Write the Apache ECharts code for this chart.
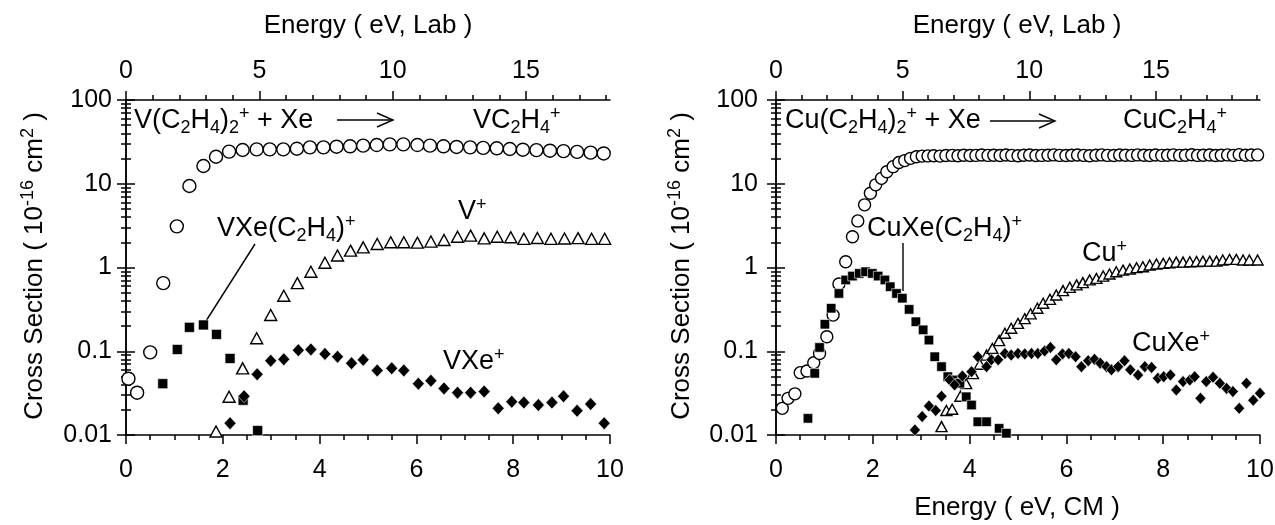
<!DOCTYPE html>
<html><head><meta charset="utf-8">
<script src="https://cdn.jsdelivr.net/npm/echarts@6/dist/echarts.min.js"></script>
<style>html,body{margin:0;padding:0;background:#fff}#c{width:1275px;height:525px}</style>
</head><body><div id="c"></div>
<script>
// ---------- DATA: V(C2H4)2+ + Xe ----------
const vcX = [0.05,0.23,0.50,0.77,1.05,1.31,1.60,1.86,2.13,2.41,2.70,2.97,3.25,3.53,3.80,4.08,4.35,4.63,4.90,5.18,5.45,5.73,6.02,6.28,6.56,6.83,7.11,7.38,7.66,7.93,8.20,8.48,8.76,9.04,9.32,9.60,9.87];
const vcY = [0.047,0.032,0.097,0.65,3.1,9.4,16.3,21,24.2,25.3,25.7,25.7,25.7,26.2,27.2,27.2,27.7,28,28.5,29,29.5,29.5,29,28.5,28,27.5,27.2,26.8,26.5,26,25.5,25.2,24.8,24.5,24,23.5,23];
const vX = [1.86,2.13,2.41,2.70,2.99,3.26,3.54,3.82,4.11,4.37,4.64,4.90,5.19,5.47,5.74,6.02,6.30,6.57,6.85,7.12,7.40,7.67,7.95,8.22,8.50,8.78,9.06,9.34,9.62,9.89];
const vY = [0.011,0.0286,0.0625,0.143,0.271,0.46,0.65,0.89,1.14,1.39,1.59,1.74,1.91,2.0,2.0,1.98,2.04,2.13,2.33,2.40,2.23,2.33,2.30,2.2,2.25,2.2,2.22,2.24,2.2,2.2];
const vxecX = [0.76,1.06,1.31,1.60,1.87,2.15,2.42,2.72];
const vxecY = [0.041,0.105,0.193,0.206,0.159,0.082,0.026,0.0113];
const vxeX = [2.15,2.44,2.71,2.99,3.26,3.56,3.82,4.11,4.37,4.66,4.90,5.19,5.49,5.74,6.04,6.30,6.57,6.85,7.12,7.40,7.69,7.97,8.22,8.52,8.80,9.04,9.32,9.60,9.88];
const vxeY = [0.0138,0.029,0.053,0.077,0.080,0.103,0.105,0.093,0.086,0.072,0.079,0.059,0.0625,0.059,0.041,0.0445,0.036,0.032,0.032,0.033,0.0208,0.025,0.0244,0.0228,0.0244,0.029,0.0195,0.0234,0.0138];

// ---------- DATA: Cu(C2H4)2+ + Xe ----------
const cucX = [0.13,0.25,0.39,0.50,0.64,0.78,0.90,1.05,1.18,1.30,1.44,1.58,1.69,1.83,1.95,2.06,2.18,2.29,2.42,2.54,2.66,2.78,2.90,3.02,
  3.14,3.26,3.39,3.51,3.64,3.76,3.88,4.01,4.13,4.25,4.38,4.50,4.63,4.75,4.87,5.00,5.12,5.24,5.37,5.49,5.62,5.74,5.86,5.99,6.11,6.23,6.36,6.48,6.61,6.73,
  6.85,6.98,7.10,7.22,7.35,7.47,7.60,7.72,7.84,7.97,8.09,8.21,8.34,8.46,8.59,8.71,8.83,8.96,9.08,9.20,9.33,9.45,9.57,9.70,9.82,9.95];
const cucY = [0.0208,0.0274,0.031,0.0555,0.058,0.073,0.094,0.149,0.27,0.635,1.17,2.33,3.6,5.6,7.7,9.7,11.6,13.9,16,17.9,18.9,20.1,21,21.4,
  21.5,21.6,21.4,21.7,21.8,21.6,21.9,21.7,21.8,22.0,21.8,21.9,21.7,22.0,21.8,21.6,21.9,22.0,21.7,21.8,21.9,22.1,21.8,21.7,21.9,22.0,21.8,21.6,21.9,22.1,
  21.8,21.7,22.0,21.9,21.8,22.1,21.9,21.7,22.0,21.8,21.9,22.1,21.8,21.9,22.2,21.8,21.9,22.0,21.7,21.9,22.1,21.8,22.3,21.9,22.0,22.1];
const cuX = [3.42,3.52,3.64,3.81,3.93,4.07,4.21,4.35,4.47,4.61,4.73,4.86,5.00,5.14,5.26,5.40,5.52,5.66,5.79,5.93,6.07,6.21,6.34,6.48,6.62,6.76,6.89,7.03,7.17,7.31,7.45,7.58,7.72,7.86,8.00,8.13,8.27,8.41,8.55,8.69,8.82,8.96,9.10,9.23,9.37,9.51,9.65,9.78,9.95];
const cuY = [0.0126,0.0196,0.0203,0.029,0.041,0.054,0.070,0.090,0.108,0.134,0.164,0.188,0.215,0.245,0.28,0.326,0.374,0.417,0.47,0.53,0.58,0.62,0.66,0.71,0.74,0.79,0.836,0.89,0.93,0.96,0.995,1.02,1.07,1.10,1.12,1.14,1.16,1.16,1.17,1.18,1.19,1.19,1.19,1.23,1.25,1.25,1.23,1.23,1.23];
const cuxecX = [0.66,0.80,0.90,1.01,1.14,1.30,1.44,1.58,1.72,1.85,1.99,2.11,2.25,2.36,2.49,2.61,2.75,2.89,3.04,3.16,3.28,3.42,3.55,3.66,3.80,3.93,4.04,4.17,4.35,4.61,4.76];
const cuxecY = [0.0158,0.0545,0.111,0.21,0.326,0.49,0.71,0.79,0.85,0.89,0.85,0.79,0.71,0.59,0.49,0.43,0.316,0.225,0.18,0.136,0.086,0.0655,0.0497,0.0454,0.0414,0.0286,0.0228,0.0144,0.0144,0.012,0.0105];
const cuxeX = [2.87,3.02,3.16,3.30,3.42,3.59,3.69,3.85,4.04,4.17,4.35,4.45,4.59,4.73,4.86,5.00,5.14,5.28,5.41,5.55,5.67,5.79,5.92,6.05,6.19,6.31,6.45,6.58,6.70,6.83,6.93,7.07,7.20,7.32,7.48,7.62,7.76,7.89,8.01,8.15,8.27,8.41,8.55,8.65,8.77,8.89,9.03,9.17,9.31,9.44,9.57,9.72,9.86,10.0];
const cuxeY = [0.0115,0.0166,0.0222,0.0196,0.029,0.0454,0.0396,0.0506,0.057,0.086,0.0655,0.079,0.079,0.094,0.090,0.094,0.093,0.094,0.094,0.101,0.111,0.079,0.093,0.094,0.086,0.0655,0.077,0.080,0.072,0.0655,0.060,0.0655,0.077,0.060,0.052,0.0655,0.064,0.0475,0.0497,0.052,0.0345,0.0434,0.0454,0.0497,0.0274,0.0434,0.049,0.0414,0.036,0.033,0.0208,0.0414,0.026,0.0315];

// ---------- AXES / TICKS ----------
const cmMajorTicks = [0,2,4,6,8,10];
const cmMinorTicks = [0.5,1,1.5,2.5,3,3.5,4.5,5,5.5,6.5,7,7.5,8.5,9,9.5];
const labMajorTicks = [0,5,10,15];
const labMinorTicks = [1,2,3,4,6,7,8,9,11,12,13,14,16,17,18,19];
const yMajorTicks = [0.01,0.1,1,10,100];
const yTickLabels = ['0.01','0.1','1','10','100'];
const yMinorTicks = [0.02,0.03,0.04,0.05,0.06,0.07,0.08,0.09,0.2,0.3,0.4,0.5,0.6,0.7,0.8,0.9,2,3,4,5,6,7,8,9,20,30,40,50,60,70,80,90];
const labMaxV = 18.15;   // Lab energy at 10 eV CM, V(C2H4)2+ + Xe
const labMaxCu = 19.11;  // Lab energy at 10 eV CM, Cu(C2H4)2+ + Xe

const FF = '"Liberation Sans", Arial, Helvetica, sans-serif';
const FS = 25;      // tick labels
const FT = 26;      // axis titles
const FA = 27;      // annotations
const LW = 1.5;
const black = '#000';

function xAx(grid, pos, max, ticks, len, labelVals) {
  return {
    type: 'value', gridIndex: grid, position: pos, min: 0, max: max,
    axisLine: {show: !!labelVals, lineStyle: {color: black, width: LW}},
    axisTick: {show: true, inside: false, length: len, customValues: ticks, lineStyle: {color: black, width: LW}},
    axisLabel: labelVals ? {show: true, customValues: labelVals, color: black, fontSize: FS, fontFamily: FF, margin: pos === 'bottom' ? 23 : 16} : {show: false},
    splitLine: {show: false}, minorTick: {show: false}
  };
}
function yAx(grid, pos, ticks, len, labelVals, showLine, margin) {
  return {
    type: 'log', logBase: 10, gridIndex: grid, position: pos, min: 0.01, max: 100,
    axisLine: {show: showLine, lineStyle: {color: black, width: LW}},
    axisTick: {show: true, inside: false, length: len, customValues: ticks, lineStyle: {color: black, width: LW}},
    axisLabel: labelVals ? {show: true, customValues: labelVals, color: black, fontSize: FS, fontFamily: FF, margin: margin,
      formatter: function (v) {
        for (let i = 0; i < yMajorTicks.length; i++) {
          if (Math.abs(Math.log10(yMajorTicks[i]) - Math.log10(v)) < 1e-6) return yTickLabels[i];
        }
        return '';
      }} : {show: false},
    splitLine: {show: false}, minorTick: {show: false}
  };
}

const xAxes = [], yAxes = [];
[[0, labMaxV], [1, labMaxCu]].forEach(function (g) {
  const gi = g[0];
  xAxes.push(xAx(gi, 'bottom', 10, cmMajorTicks, 9, cmMajorTicks));
  xAxes.push(xAx(gi, 'bottom', 10, cmMinorTicks, 5, null));
  xAxes.push(xAx(gi, 'top', g[1], labMajorTicks, 9, labMajorTicks));
  xAxes.push(xAx(gi, 'top', g[1], labMinorTicks, 5, null));
  yAxes.push(yAx(gi, 'left', yMajorTicks, 9, yMajorTicks, true, gi === 0 ? 14 : 18));
  yAxes.push(yAx(gi, 'left', yMinorTicks, 5, null, false));
  yAxes.push(yAx(gi, 'right', yMajorTicks, 9, null, true));
  yAxes.push(yAx(gi, 'right', yMinorTicks, 5, null, false));
});

function pairs(xs, ys) { return xs.map(function (x, i) { return [x, ys[i]]; }); }
function ser(grid, xs, ys, kind, size) {
  const open = kind === 'circle' || kind === 'triangle';
  return {
    type: 'scatter', xAxisIndex: grid * 4, yAxisIndex: grid * 4, data: pairs(xs, ys),
    symbol: kind === 'square' ? 'rect' : kind, symbolSize: size, clip: false,
    itemStyle: open ? {color: '#fff', borderColor: black, borderWidth: 1.4, opacity: 1}
                    : {color: black, borderColor: '#fff', borderWidth: 0.6, opacity: 1},
    emphasis: {disabled: true}, animation: false
  };
}

const series = [
  ser(0, vcX, vcY, 'circle', 13),
  ser(0, vX, vY, 'triangle', [12, 11]),
  ser(0, vxecX, vxecY, 'square', 10),
  ser(0, vxeX, vxeY, 'diamond', [12, 13]),
  ser(1, cucX, cucY, 'circle', 12),
  ser(1, cuX, cuY, 'triangle', [11, 10]),
  ser(1, cuxecX, cuxecY, 'square', 9.5),
  ser(1, cuxeX, cuxeY, 'diamond', [11, 12])
];

// ---------- ANNOTATIONS ----------
function mkRich(size, sub) {
  return {
    n: {fontSize: size, lineHeight: 32, fontFamily: FF, fill: black},
    b: {fontSize: sub, lineHeight: 14, verticalAlign: 'bottom', fontFamily: FF, fill: black},
    p: {fontSize: sub, lineHeight: 6, verticalAlign: 'top', fontFamily: FF, fill: black}
  };
}
const richA = mkRich(FA, 18);
const richT = mkRich(FT, 18);
function txt(x, y, text, rich, align, rot) {
  return {type: 'text', x: x, y: y, rotation: rot || 0, silent: true,
    style: {text: text, rich: rich, align: align || 'left', verticalAlign: 'middle', fill: black, fontFamily: FF}};
}
function seg(x1, y1, x2, y2) {
  return {type: 'line', silent: true, shape: {x1: x1, y1: y1, x2: x2, y2: y2}, style: {stroke: black, lineWidth: 1.4}};
}
function arrow(x1, x2, y) {
  return [seg(x1, y, x2, y),
    {type: 'polyline', silent: true, shape: {points: [[x2 - 16, y - 7], [x2, y], [x2 - 16, y + 7]]}, style: {stroke: black, lineWidth: 1.4, fill: null}}];
}
const yName = '{n|Cross Section ( 10}{p|-16}{n| cm}{p|2}{n| )}';
const graphics = [
  txt(368, 26, '{n|Energy ( eV, Lab )}', richT, 'center'),
  txt(1017, 26, '{n|Energy ( eV, Lab )}', richT, 'center'),
  txt(1017, 508, '{n|Energy ( eV, CM )}', richT, 'center'),
  txt(35, 266, yName, richT, 'center', Math.PI / 2),
  txt(682, 266, yName, richT, 'center', Math.PI / 2),
  txt(134, 121, '{n|V(C}{b|2}{n|H}{b|4}{n|)}{b|2}{p|+}{n| + Xe}', richA),
  txt(473, 121, '{n|VC}{b|2}{n|H}{b|4}{p|+}', richA),
  txt(217, 229, '{n|VXe(C}{b|2}{n|H}{b|4}{n|)}{p|+}', richA),
  seg(255, 244, 206, 321),
  txt(458, 212, '{n|V}{p|+}', richA),
  txt(443, 362, '{n|VXe}{p|+}', richA),
  txt(785, 121, '{n|Cu(C}{b|2}{n|H}{b|4}{n|)}{b|2}{p|+}{n| + Xe}', richA),
  txt(1123, 121, '{n|CuC}{b|2}{n|H}{b|4}{p|+}', richA),
  txt(867, 229, '{n|CuXe(C}{b|2}{n|H}{b|4}{n|)}{p|+}', richA),
  seg(903, 243, 903, 291),
  txt(1082, 254, '{n|Cu}{p|+}', richA),
  txt(1132, 344, '{n|CuXe}{p|+}', richA)
].concat(arrow(337, 393, 120)).concat(arrow(990, 1055, 121));

const chart = echarts.init(document.getElementById('c'), null, {renderer: 'canvas'});
chart.setOption({
  animation: false,
  backgroundColor: '#fff',
  grid: [
    {left: 126, width: 484, top: 100, height: 335, containLabel: false, outerBoundsMode: 'none'},
    {left: 776, width: 484, top: 100, height: 335, containLabel: false, outerBoundsMode: 'none'}
  ],
  xAxis: xAxes,
  yAxis: yAxes,
  series: series,
  graphic: graphics
});
</script>
</body></html>
